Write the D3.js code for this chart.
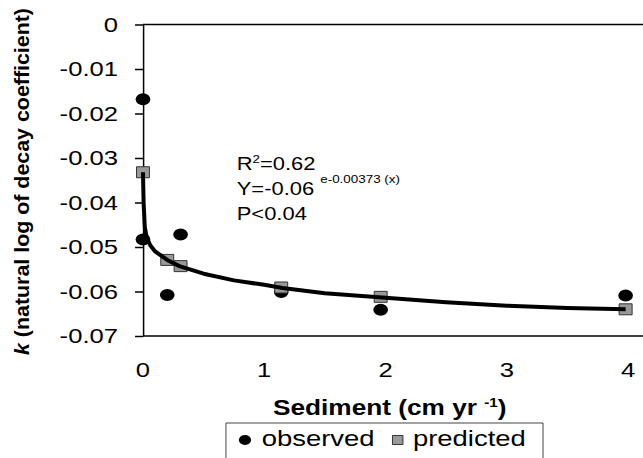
<!DOCTYPE html>
<html>
<head>
<meta charset="utf-8">
<script src="https://cdn.jsdelivr.net/npm/d3@7/dist/d3.min.js"></script>
<style>
  html, body { margin: 0; padding: 0; background: #fff; }
  svg { display: block; }
  text { font-family: "Liberation Sans", Arial, sans-serif; fill: #000; }
</style>
</head>
<body>
<script>
// ---- data ----
const xTicks = [0, 1, 2, 3, 4];
const yTicks = [0, -0.01, -0.02, -0.03, -0.04, -0.05, -0.06, -0.07];
const yTickLabels = ["0", "-0.01", "-0.02", "-0.03", "-0.04", "-0.05", "-0.06", "-0.07"];

const observedX = [0, 0, 0.2, 0.31, 1.14, 1.96, 3.98];
const observedY = [-0.0168, -0.0483, -0.0608, -0.0472, -0.0601, -0.0641, -0.0609];

const predictedX = [0, 0.2, 0.31, 1.14, 1.96, 3.98];
const predictedY = [-0.0332, -0.0529, -0.0543, -0.0591, -0.0612, -0.0640];

const fitX = [0, 0.005, 0.015, 0.03, 0.06, 0.1, 0.2, 0.3, 0.5, 0.75, 1.0, 1.15, 1.5, 2.0, 2.5, 3.0, 3.5, 3.98];
const fitY = [-0.0332, -0.040, -0.0455, -0.0478, -0.0496, -0.0510, -0.0529, -0.0543, -0.0560, -0.0575, -0.0585, -0.0592, -0.0604, -0.0614, -0.0624, -0.0632, -0.0637, -0.0640];

const legendLabels = ["observed", "predicted"];
const statLines = ["R", "=0.62", "Y=-0.06", "e-0.00373 (x)", "P<0.04"];

// ---- drawing ----
const SX = 1.22;               // horizontal stretch of the reference picture
const W = 643 / SX, H = 458;

const svg = d3.select("body").append("svg")
  .attr("width", 643).attr("height", 458)
  .attr("viewBox", `0 0 ${W} ${H}`)
  .attr("preserveAspectRatio", "none");

const x = d3.scaleLinear().domain([0, 4]).range([117.2, 514.8]);
const y = d3.scaleLinear().domain([-0.07, 0]).range([336, 24.5]);

// top line at y = 0 and bottom axis line
svg.append("line")
  .attr("x1", x(0)).attr("x2", W).attr("y1", y(0)).attr("y2", y(0))
  .attr("stroke", "#000").attr("stroke-width", 1.5);
svg.append("line")
  .attr("x1", x(0)).attr("x2", W).attr("y1", y(-0.07)).attr("y2", y(-0.07))
  .attr("stroke", "#000").attr("stroke-width", 1.5);

// y axis
const yAxis = d3.axisLeft(y)
  .tickValues(yTicks)
  .tickSize(6.5)
  .tickSizeOuter(0)
  .tickPadding(14)
  .tickFormat((d, i) => yTickLabels[i]);
const gy = svg.append("g").attr("transform", `translate(${x(0)},0)`).call(yAxis);
gy.select(".domain").attr("stroke", "#000").attr("stroke-width", 1.5)
  .attr("vector-effect", "non-scaling-stroke");
gy.selectAll(".tick line").attr("stroke", "#000").attr("stroke-width", 1.5);
gy.selectAll(".tick text")
  .attr("font-size", 21)
  .attr("font-family", "Liberation Sans, Arial, sans-serif")
  .attr("fill", "#000");

// x tick labels
svg.append("g").selectAll("text").data(xTicks).join("text")
  .attr("x", d => x(d)).attr("y", 377)
  .attr("text-anchor", "middle")
  .attr("font-size", 21)
  .text(d => d);

// axis titles
const xt = svg.append("text")
  .attr("x", 319.5).attr("y", 415)
  .attr("text-anchor", "middle")
  .attr("font-size", 21.5).attr("font-weight", "bold");
xt.append("tspan").text("Sediment (cm yr ");
xt.append("tspan").attr("font-size", 12.5).attr("dy", -8).text("-1");
xt.append("tspan").attr("dy", 8).text(")");

const yt = svg.append("text")
  .attr("transform", `translate(23.8,181.5) rotate(-90)`)
  .attr("text-anchor", "middle")
  .attr("font-size", 17).attr("font-weight", "bold")
  .attr("textLength", 347).attr("lengthAdjust", "spacingAndGlyphs");
yt.append("tspan").attr("font-style", "italic").text("k");
yt.append("tspan").text(" (natural log of decay coefficient)");

// observed points
svg.append("g").selectAll("circle").data(observedX).join("circle")
  .attr("cx", d => x(d)).attr("cy", (d, i) => y(observedY[i]))
  .attr("r", 6).attr("fill", "#000");

// predicted squares
svg.append("g").selectAll("rect").data(predictedX).join("rect")
  .attr("x", d => x(d) - 5.3).attr("y", (d, i) => y(predictedY[i]) - 5.5)
  .attr("width", 10.6).attr("height", 11)
  .attr("fill", "#999").attr("stroke", "#333").attr("stroke-width", 1)
  .attr("vector-effect", "non-scaling-stroke");

// fitted curve
const line = d3.line().x(d => x(d)).y((d, i) => y(fitY[i]));
svg.append("path").datum(fitX)
  .attr("d", line)
  .attr("fill", "none").attr("stroke", "#000").attr("stroke-width", 4)
  .attr("stroke-linejoin", "round")
  .attr("vector-effect", "non-scaling-stroke");

// statistics annotation
const sx0 = 194;
const t1 = svg.append("text").attr("x", sx0).attr("y", 170).attr("font-size", 18);
t1.append("tspan").text(statLines[0]);
t1.append("tspan").attr("font-size", 11).attr("dy", -7).text("2");
t1.append("tspan").attr("dy", 7).text(statLines[1]);
const t2 = svg.append("text").attr("x", sx0).attr("y", 195).attr("font-size", 18);
t2.append("tspan").text(statLines[2]);
t2.append("tspan").attr("font-size", 11).attr("dx", 5).attr("dy", -12).text(statLines[3]);
svg.append("text").attr("x", sx0).attr("y", 220).attr("font-size", 18).text(statLines[4]);

// legend
const lg = svg.append("g");
lg.append("rect")
  .attr("x", 185.2).attr("y", 423).attr("width", 445.1 - 185.2).attr("height", 60)
  .attr("fill", "#fff").attr("stroke", "#444").attr("stroke-width", 1)
  .attr("vector-effect", "non-scaling-stroke");
lg.append("circle").attr("cx", 200.8).attr("cy", 440).attr("r", 5).attr("fill", "#000");
lg.append("text").attr("x", 214.5).attr("y", 446).attr("font-size", 22.5).text(legendLabels[0]);
lg.append("rect").attr("x", 326 - 4.3).attr("y", 440 - 4.5).attr("width", 8.6).attr("height", 9)
  .attr("fill", "#999").attr("stroke", "#333").attr("stroke-width", 1)
  .attr("vector-effect", "non-scaling-stroke");
lg.append("text").attr("x", 338.5).attr("y", 446).attr("font-size", 22.5).text(legendLabels[1]);
</script>
</body>
</html>
